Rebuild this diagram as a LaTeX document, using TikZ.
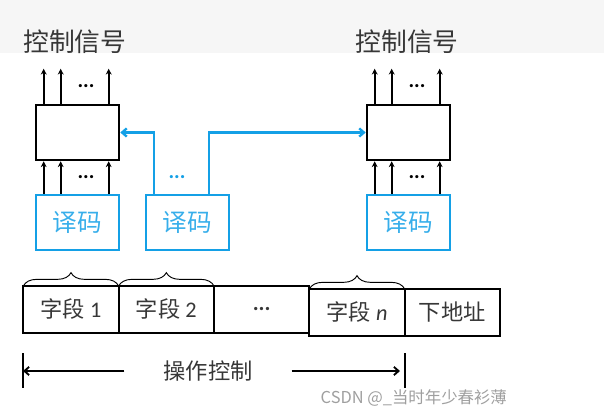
\documentclass[tikz,border=0pt]{standalone}
\usepackage{fontspec}
\setmainfont{Noto Sans CJK SC}
\newfontfamily\latinfont{Carlito}
\usetikzlibrary{positioning,arrows.meta,decorations.pathreplacing}
\definecolor{decblue}{RGB}{20,160,230}
\definecolor{txtgray}{RGB}{55,55,55}
\tikzset{
  unitbox/.style={draw=black,line width=2.2pt,minimum width=2.49cm,minimum height=1.65cm,inner sep=0pt},
  decbox/.style={draw=decblue,line width=2.2pt,minimum width=2.49cm,minimum height=1.65cm,inner sep=0pt,text=decblue!85,font=\fontsize{21}{22}\selectfont},
  field/.style={draw=black,line width=1.9pt,minimum width=2.86cm,minimum height=1.41cm,inner sep=0pt,outer sep=0pt,text=txtgray,font=\fontsize{19}{20}\selectfont},
  sigline/.style={line width=2pt,-{Stealth[length=5pt,width=5pt]}},
  link/.style={draw=decblue,line width=2pt,-{Straight Barb[length=4pt,width=7pt]}},
  brc/.style={decorate,decoration={brace,amplitude=0.4cm},line width=0.8pt},
  dotstyle/.style={font=\latinfont\bfseries\fontsize{18}{18}\selectfont},
  meas/.style={line width=1.6pt,-{Straight Barb[length=4pt,width=7pt]}}
}
\begin{document}
\begin{tikzpicture}[x=0.03cm,y=-0.03cm]
\useasboundingbox (0,0) rectangle (604,418);
\fill[gray!7] (0,0) rectangle (604,53);

% control units and decoders
\node[unitbox] (ctl1) at (77.5,132.5) {};
\node[unitbox] (ctl2) at (408.5,132.5) {};
\node[decbox] (dec1) at (77.5,222.5) {译码};
\node[decbox] (dec2) at (187.5,222.5) {译码};
\node[decbox] (dec3) at (408.5,222.5) {译码};
\node[text=txtgray,font=\fontsize{22}{24}\selectfont] (sig1) at (75,42) {控制信号};
\node[text=txtgray,font=\fontsize{22}{24}\selectfont] (sig2) at (407,42) {控制信号};

\foreach \dx in {0.27,0.78,2.22}{
  \draw[sigline] ([xshift=\dx cm]ctl1.north west) -- ++(0,1.05cm);
  \draw[sigline] ([xshift=\dx cm]ctl2.north west) -- ++(0,1.05cm);
  \draw[sigline] ([xshift=\dx cm]dec1.north west) -- ([xshift=\dx cm]ctl1.south west);
  \draw[sigline] ([xshift=\dx cm]dec3.north west) -- ([xshift=\dx cm]ctl2.south west);
}
\node[dotstyle] (up1) at (86,86) {...};
\node[dotstyle] (up2) at (417,86) {...};
\node[dotstyle] (lo1) at (86,177) {...};
\node[dotstyle] (lo2) at (417,177) {...};
\node[dotstyle,text=decblue] (lo3) at (177,177) {...};

\draw[link] ([xshift=0.27cm]dec2.north west) |- (ctl1.east);
\draw[link] ([xshift=1.92cm]dec2.north west) |- (ctl2.west);

% microinstruction format
\node[field] (f1) at (71,309.5) {字段 {\latinfont 1}};
\node[field,right=0pt of f1] (f2) {字段 {\latinfont 2}};
\node[field,right=0pt of f2] (f3) {\latinfont\bfseries ...};
\node[field,right=0pt of f3,yshift=-0.09cm] (fn) {字段 {\latinfont\itshape n}};
\node[field,right=0pt of fn] (addr) {下地址};

\draw[brc] (f1.north west) -- (f1.north east);
\draw[brc] (f2.north west) -- (f2.north east);
\draw[brc] (fn.north west) -- (fn.north east);

% operation control span
\coordinate (opL) at (23,353);
\coordinate (opR) at (405,353);
\draw[line width=1.6pt] (opL) -- ++(0,-1.05cm);
\draw[line width=1.6pt] (opR) -- ++(0,-1.05cm);
\node[text=txtgray,font=\fontsize{19}{20}\selectfont] (op) at (208,371) {操作控制};
\draw[meas] ([xshift=-1.05cm]op.west) -- (op.west -| opL);
\draw[meas] ([xshift=1.05cm]op.east) -- ([xshift=-0.15cm]op.east -| opR);

\node[text=gray!75,font=\fontsize{14}{14}\selectfont,anchor=east] (wm) at (511,398) {CSDN @\_当时年少春衫薄};
\end{tikzpicture}
\end{document}
